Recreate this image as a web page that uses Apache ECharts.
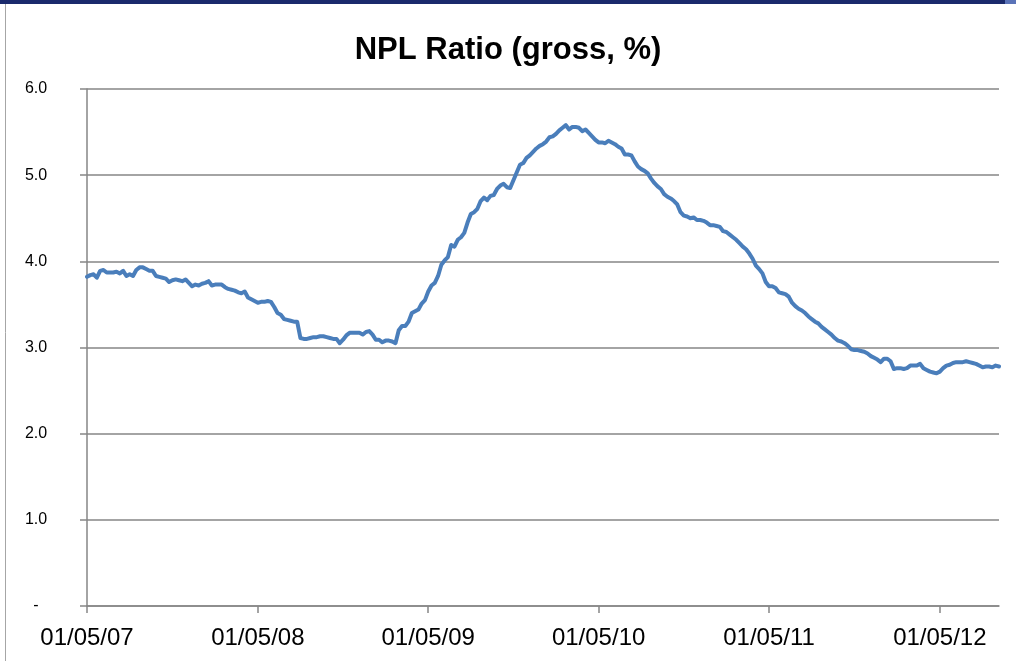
<!DOCTYPE html>
<html>
<head>
<meta charset="utf-8">
<script src="https://cdn.jsdelivr.net/npm/echarts@6/dist/echarts.min.js"></script>
<style>
  html, body { margin: 0; padding: 0; background: #ffffff; }
  #chart { width: 1016px; height: 661px; }
</style>
</head>
<body>
<div id="chart"></div>
<script>
// Weekly NPL ratio readings; each yearly array starts at 1 May of that year (k = 0..)
var titleText = 'NPL Ratio (gross, %)';
var yearStarts = [2007, 2008, 2009, 2010, 2011];
var y2007 = [3.82,3.84,3.85,3.81,3.89,3.90,3.87,3.87,3.87,3.88,3.86,3.89,3.83,3.85,3.83,3.90,3.93,3.93,3.91,3.89,3.89,3.83,3.82,3.81,3.80,3.76,3.78,3.79,3.78,3.77,3.79,3.75,3.71,3.73,3.72,3.74,3.75,3.77,3.72,3.73,3.73,3.73,3.70,3.68,3.67,3.66,3.64,3.63,3.65,3.58,3.56,3.54];
var y2008 = [3.52,3.53,3.53,3.54,3.53,3.47,3.40,3.38,3.33,3.32,3.31,3.30,3.30,3.11,3.10,3.10,3.11,3.12,3.12,3.13,3.13,3.12,3.11,3.10,3.10,3.05,3.09,3.14,3.17,3.17,3.17,3.17,3.15,3.18,3.19,3.15,3.09,3.09,3.06,3.08,3.08,3.07,3.05,3.20,3.25,3.25,3.30,3.40,3.42,3.44,3.51,3.55];
var y2009 = [3.65,3.72,3.75,3.83,3.96,4.01,4.05,4.19,4.17,4.25,4.28,4.33,4.45,4.55,4.57,4.61,4.70,4.74,4.71,4.76,4.77,4.84,4.88,4.90,4.86,4.85,4.94,5.03,5.12,5.14,5.20,5.23,5.27,5.31,5.34,5.36,5.39,5.44,5.45,5.48,5.52,5.55,5.58,5.53,5.56,5.56,5.55,5.51,5.53,5.49,5.45,5.41];
var y2010 = [5.38,5.38,5.37,5.40,5.38,5.36,5.33,5.31,5.24,5.24,5.23,5.16,5.10,5.07,5.05,5.02,4.96,4.91,4.87,4.84,4.78,4.75,4.73,4.70,4.66,4.57,4.53,4.52,4.50,4.51,4.48,4.48,4.47,4.45,4.42,4.42,4.41,4.40,4.35,4.34,4.31,4.28,4.25,4.21,4.17,4.14,4.09,4.03,3.95,3.91,3.86,3.76];
var y2011 = [3.71,3.71,3.69,3.64,3.63,3.62,3.59,3.52,3.48,3.45,3.43,3.40,3.36,3.33,3.30,3.28,3.24,3.21,3.18,3.15,3.11,3.08,3.07,3.05,3.02,2.98,2.97,2.97,2.96,2.95,2.93,2.90,2.88,2.86,2.83,2.87,2.87,2.84,2.75,2.76,2.76,2.75,2.76,2.79,2.79,2.79,2.81,2.76,2.74,2.72,2.71,2.70,2.72,2.76,2.79,2.80,2.82,2.83,2.83,2.83,2.84,2.83,2.82,2.81,2.79,2.77,2.78,2.78,2.77,2.79,2.78];
var yearValues = [y2007, y2008, y2009, y2010, y2011];
var tickYears = [2007, 2008, 2009, 2010, 2011, 2012];
var yTicks = [0, 1, 2, 3, 4, 5, 6];

function may1(y) { return Date.UTC(y, 4, 1); }
var seriesData = [];
yearStarts.forEach(function (yr, i) {
  var s = may1(yr), e = may1(yr + 1);
  yearValues[i].forEach(function (v, k) {
    seriesData.push([s + (e - s) * k / 52, v]);
  });
});
var tickDates = tickYears.map(may1);
var xMin = tickDates[0];
var xMax = seriesData[seriesData.length - 1][0];

function pad(n) { return (n < 10 ? '0' : '') + n; }
function fmtDate(t) {
  var d = new Date(Math.round(t));
  return pad(d.getUTCDate()) + '/' + pad(d.getUTCMonth() + 1) + '/' + pad(d.getUTCFullYear() % 100);
}

var chart = echarts.init(document.getElementById('chart'), null, { renderer: 'canvas' });
var axisGray = '#868686';
chart.setOption({
  animation: false,
  backgroundColor: '#ffffff',
  title: {
    text: titleText,
    left: 'center',
    top: 30,
    textStyle: { fontFamily: 'Liberation Sans', fontWeight: 'bold', fontSize: 31, color: '#000000' }
  },
  graphic: [
    { type: 'rect', shape: { x: 0, y: 0, width: 1005, height: 4 }, style: { fill: '#1a2a6c' } },
    { type: 'rect', shape: { x: 1005, y: 0, width: 11, height: 4 }, style: { fill: '#5a73b8' } },
    { type: 'line', shape: { x1: 5.5, y1: 4, x2: 5.5, y2: 661 }, style: { stroke: '#a6a6a6', lineWidth: 1 } }
  ],
  grid: { left: 87, right: 17, top: 89, bottom: 55, containLabel: false },
  xAxis: {
    type: 'value',
    min: xMin,
    max: xMax,
    scale: true,
    axisLine: { show: true, onZero: false, lineStyle: { color: axisGray, width: 1.5 } },
    axisTick: { show: true, customValues: tickDates, length: 7, lineStyle: { color: axisGray, width: 1.5 } },
    axisLabel: {
      customValues: tickDates,
      formatter: function (v) { return fmtDate(v); },
      fontFamily: 'Liberation Sans',
      fontSize: 24,
      color: '#000000',
      margin: 20,
      showMinLabel: true,
      showMaxLabel: true
    },
    splitLine: { show: false }
  },
  yAxis: {
    type: 'value',
    min: yTicks[0],
    max: yTicks[yTicks.length - 1],
    interval: 1,
    axisLine: { show: true, lineStyle: { color: axisGray, width: 1.5 } },
    axisTick: { show: true, length: 7, lineStyle: { color: axisGray, width: 1.5 } },
    axisLabel: {
      formatter: function (v) { return v === 0 ? '-' : v.toFixed(1); },
      fontFamily: 'Liberation Sans',
      fontSize: 16,
      color: '#000000',
      align: 'center',
      margin: 51
    },
    splitLine: { show: true, lineStyle: { color: axisGray, width: 1.5 } }
  },
  series: [{
    type: 'line',
    data: seriesData,
    showSymbol: false,
    symbol: 'none',
    lineStyle: { color: '#4a7ebb', width: 4, join: 'round', cap: 'round' },
    itemStyle: { color: '#4a7ebb' }
  }]
});
</script>
</body>
</html>
